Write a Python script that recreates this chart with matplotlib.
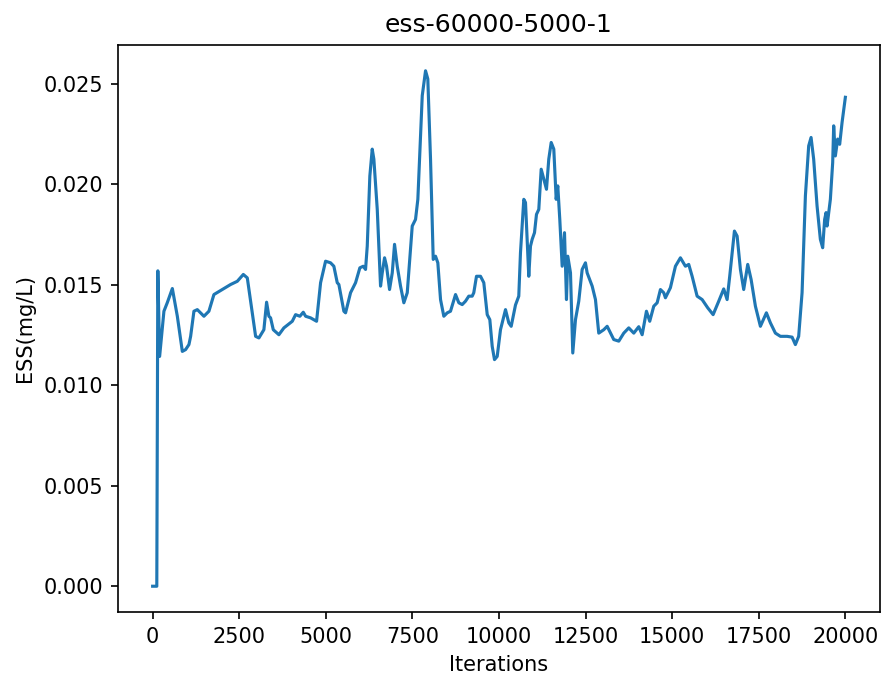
import matplotlib
matplotlib.use("Agg")
import matplotlib.pyplot as plt

# ESS trace over training iterations
iterations = [
    0, 120, 150, 202, 326, 424, 569, 713, 857, 952, 1048, 1097, 1192, 1290,
    1481, 1625, 1769, 2012, 2251, 2444, 2618, 2733, 2973, 3068, 3212, 3290,
    3356, 3405, 3483, 3645, 3789, 4032, 4127, 4251, 4349, 4416, 4560, 4733,
    4849, 4993, 5137, 5232, 5330, 5377, 5521, 5570, 5714, 5859, 5983, 6081,
    6147, 6196, 6271, 6340, 6387, 6485, 6580, 6629, 6696, 6753, 6840, 6918,
    6984, 7062, 7157, 7253, 7351, 7446, 7495, 7590, 7657, 7784, 7879, 7945,
    8023, 8101, 8167, 8234, 8312, 8407, 8505, 8600, 8745, 8840, 8938, 9033,
    9128, 9226, 9272, 9350, 9466, 9561, 9660, 9735, 9804, 9870, 9948, 10043,
    10188, 10283, 10352, 10476, 10571, 10620, 10716, 10765, 10860, 10909,
    10958, 11025, 11082, 11149, 11218, 11293, 11371, 11437, 11507, 11582,
    11651, 11697, 11755, 11824, 11891, 11948, 11986, 12064, 12130, 12208,
    12303, 12401, 12496, 12545, 12690, 12785, 12880, 13025, 13123, 13313,
    13458, 13602, 13746, 13891, 14035, 14133, 14257, 14352, 14468, 14566,
    14661, 14756, 14805, 14949, 15094, 15238, 15382, 15478, 15576, 15720,
    15865, 16026, 16182, 16344, 16488, 16586, 16661, 16797, 16875, 16970,
    17065, 17181, 17279, 17403, 17547, 17720, 17836, 17980, 18125, 18318,
    18462, 18557, 18652, 18750, 18846, 18941, 19010, 19085, 19183, 19278,
    19345, 19402, 19443, 19472, 19567, 19634, 19663, 19711, 19778, 19836,
    19905, 20000,
]

ess_values = [
    0.0, 0.0, 0.0157, 0.01144, 0.01369, 0.01412, 0.01482, 0.01344, 0.01169,
    0.01178, 0.01203, 0.01244, 0.01369, 0.01377, 0.01344, 0.01369, 0.01452,
    0.01477, 0.01502, 0.01518, 0.01552, 0.01535, 0.01244, 0.01236, 0.01277,
    0.01414, 0.01344, 0.01336, 0.01277, 0.01252, 0.01286, 0.01319, 0.01352,
    0.01344, 0.01364, 0.01344, 0.01336, 0.01319, 0.01511, 0.01618, 0.01610,
    0.01593, 0.01511, 0.01502, 0.01369, 0.01361, 0.01461, 0.01511, 0.01585,
    0.01593, 0.01577, 0.01693, 0.02042, 0.02176, 0.02126, 0.01876, 0.01494,
    0.01560, 0.01635, 0.01593, 0.01477, 0.01560, 0.01702, 0.01593, 0.01494,
    0.01411, 0.01461, 0.01677, 0.01793, 0.01826, 0.01926, 0.02442, 0.02566,
    0.02525, 0.02126, 0.01627, 0.01643, 0.01610, 0.01427, 0.01344, 0.01361,
    0.01369, 0.01452, 0.01411, 0.01402, 0.01419, 0.01444, 0.01444, 0.01461,
    0.01543, 0.01543, 0.01511, 0.01352, 0.01327, 0.01194, 0.01128, 0.01144,
    0.01277, 0.01377, 0.01311, 0.01294, 0.01400, 0.01444, 0.01660, 0.01926,
    0.01910, 0.01543, 0.01693, 0.01727, 0.01760, 0.01851, 0.01876, 0.02076,
    0.02026, 0.01976, 0.02126, 0.02209, 0.02176, 0.01926, 0.01993, 0.01826,
    0.01593, 0.01760, 0.01427, 0.01643, 0.01560, 0.01161, 0.01327, 0.01419,
    0.01577, 0.01610, 0.01560, 0.01494, 0.01427, 0.01260, 0.01277, 0.01294,
    0.01228, 0.01220, 0.01260, 0.01286, 0.01260, 0.01292, 0.01252, 0.01369,
    0.01319, 0.01394, 0.01411, 0.01477, 0.01461, 0.01436, 0.01486, 0.01593,
    0.01635, 0.01593, 0.01602, 0.01543, 0.01444, 0.01427, 0.01386, 0.01352,
    0.01419, 0.01480, 0.01427, 0.01543, 0.01768, 0.01743, 0.01577, 0.01477,
    0.01602, 0.01527, 0.01394, 0.01294, 0.01361, 0.01311, 0.01260, 0.01244,
    0.01244, 0.01240, 0.01203, 0.01244, 0.01461, 0.01943, 0.02192, 0.02234,
    0.02126, 0.01893, 0.01727, 0.01685, 0.01826, 0.01860, 0.01793, 0.01926,
    0.02109, 0.02292, 0.02142, 0.02226, 0.02200, 0.02309, 0.02434,
]

title = "ess-60000-5000-1"
x_label = "Iterations"
y_label = "ESS(mg/L)"

fig = plt.figure(figsize=(884 / 150, 681 / 150), dpi=150)
ax = fig.add_axes([118 / 884, 1 - 612 / 681, (880 - 118) / 884, (612 - 45) / 681])
ax.plot(iterations, ess_values, color="#1f77b4", linewidth=1.5)
ax.set_title(title, fontsize=12)
ax.set_xlabel(x_label)
ax.set_ylabel(y_label)
ax.set_xticks(range(0, 20001, 2500))
ax.set_yticks([0.0, 0.005, 0.010, 0.015, 0.020, 0.025])
ax.set_yticklabels(["0.000", "0.005", "0.010", "0.015", "0.020", "0.025"])

fig.savefig("out.png", dpi=150)
